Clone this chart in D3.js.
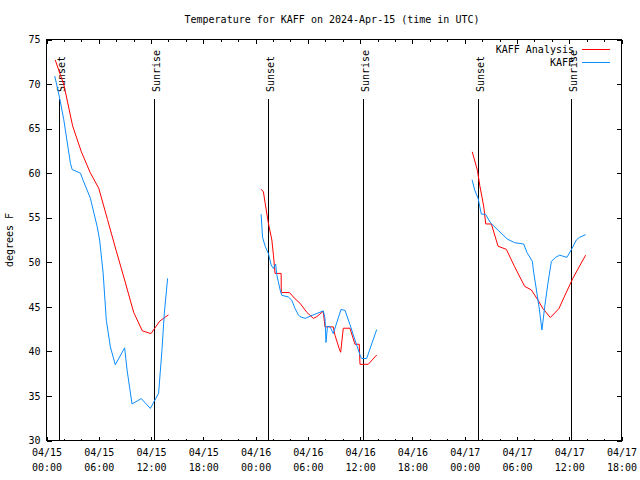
<!DOCTYPE html>
<html><head><meta charset="utf-8">
<script src="https://cdn.jsdelivr.net/npm/d3@7"></script>
<style>
html,body{margin:0;padding:0;background:#fff;}
svg{display:block;}
text{font-family:"DejaVu Sans Mono",monospace;font-size:10px;fill:#000;}
</style></head><body>
<svg id="chart" width="640" height="480"></svg>
<script>
const chartTitle = "Temperature for KAFF on 2024-Apr-15 (time in UTC)";
const yAxisLabel = "degrees F";
const seriesNames = ["KAFF Analysis", "KAFF"];
const seriesColors = ["#ff0000", "#0a8cff"];
const xDomain = ["2024-04-15 00:00", "2024-04-17 18:00"];
const yDomain = [30, 75];
const yTickValues = [30, 35, 40, 45, 50, 55, 60, 65, 70, 75];

const sunEventTimes = ["2024-04-15 01:31", "2024-04-15 12:25", "2024-04-16 01:28", "2024-04-16 12:21", "2024-04-17 01:32", "2024-04-17 12:18"];
const sunEventLabels = ["Sunset", "Sunrise", "Sunset", "Sunrise", "Sunset", "Sunrise"];

// KAFF Analysis (null = gap)
const analysisTimes = [
  "2024-04-15 01:00","2024-04-15 02:00","2024-04-15 03:00","2024-04-15 04:00","2024-04-15 05:00","2024-04-15 06:00","2024-04-15 07:00",
  "2024-04-15 08:00","2024-04-15 09:00","2024-04-15 10:00","2024-04-15 11:00","2024-04-15 12:00","2024-04-15 13:00","2024-04-15 14:00",
  null,
  "2024-04-16 00:38","2024-04-16 00:54","2024-04-16 01:06","2024-04-16 01:28","2024-04-16 01:52","2024-04-16 02:03","2024-04-16 02:14",
  "2024-04-16 02:56","2024-04-16 02:57","2024-04-16 03:53","2024-04-16 04:32","2024-04-16 05:06","2024-04-16 05:52","2024-04-16 06:38",
  "2024-04-16 07:01","2024-04-16 07:46","2024-04-16 07:58","2024-04-16 08:55","2024-04-16 09:07","2024-04-16 09:36","2024-04-16 09:46",
  "2024-04-16 10:00","2024-04-16 10:04","2024-04-16 10:50","2024-04-16 11:13","2024-04-16 11:24","2024-04-16 11:54","2024-04-16 11:59",
  "2024-04-16 12:56","2024-04-16 13:54",
  null,
  "2024-04-17 00:52","2024-04-17 01:28","2024-04-17 01:44","2024-04-17 02:11","2024-04-17 02:25","2024-04-17 03:04","2024-04-17 03:50",
  "2024-04-17 04:47","2024-04-17 05:44","2024-04-17 06:53","2024-04-17 07:39","2024-04-17 08:25","2024-04-17 08:59","2024-04-17 09:50",
  "2024-04-17 10:49","2024-04-17 11:28","2024-04-17 12:25","2024-04-17 13:53"
];
const analysisTemps = [
  72.7, 69.9, 65.3, 62.4, 60.1, 58.3, 54.8,
  51.3, 47.9, 44.4, 42.3, 42.0, 43.4, 44.1,
  null,
  58.2, 57.9, 56.6, 54.4, 52.5, 50.8, 48.75,
  48.75, 46.6, 46.6, 45.9, 45.4, 44.4, 43.7,
  43.9, 44.5, 42.75, 42.75, 41.8, 40.3, 39.9,
  42.0, 42.6, 42.6, 41.4, 40.8, 40.8, 38.55,
  38.55, 39.6,
  null,
  62.4, 60.3, 58.6, 56.3, 54.3, 54.3, 51.8,
  51.45, 49.5, 47.3, 46.9, 45.75, 44.8, 43.8,
  44.8, 46.2, 48.2, 50.8
];

// KAFF observations (null = gap)
const obsTimes = [
  "2024-04-15 00:57","2024-04-15 01:31","2024-04-15 01:59","2024-04-15 02:45","2024-04-15 02:57","2024-04-15 03:54","2024-04-15 04:12",
  "2024-04-15 05:02","2024-04-15 05:49","2024-04-15 06:06","2024-04-15 06:30","2024-04-15 06:52","2024-04-15 07:20","2024-04-15 07:54",
  "2024-04-15 08:58","2024-04-15 09:15","2024-04-15 09:49","2024-04-15 10:53","2024-04-15 11:55","2024-04-15 12:22","2024-04-15 12:52",
  "2024-04-15 13:15","2024-04-15 13:31","2024-04-15 13:54",
  null,
  "2024-04-16 00:38","2024-04-16 00:48","2024-04-16 01:06","2024-04-16 01:28","2024-04-16 01:47","2024-04-16 02:03","2024-04-16 02:18",
  "2024-04-16 02:26","2024-04-16 02:49","2024-04-16 03:00","2024-04-16 03:46","2024-04-16 04:09","2024-04-16 04:32","2024-04-16 04:55",
  "2024-04-16 05:06","2024-04-16 05:41","2024-04-16 06:15","2024-04-16 07:24","2024-04-16 07:46","2024-04-16 07:58","2024-04-16 08:05",
  "2024-04-16 08:15","2024-04-16 08:32","2024-04-16 08:55","2024-04-16 09:48","2024-04-16 10:16","2024-04-16 10:50","2024-04-16 11:24",
  "2024-04-16 11:59","2024-04-16 12:10","2024-04-16 12:45","2024-04-16 13:54",
  null,
  "2024-04-17 00:51","2024-04-17 01:09","2024-04-17 01:32","2024-04-17 01:44","2024-04-17 01:55","2024-04-17 02:23","2024-04-17 02:59",
  "2024-04-17 03:50","2024-04-17 04:54","2024-04-17 05:44","2024-04-17 06:46","2024-04-17 07:09","2024-04-17 07:46","2024-04-17 07:55",
  "2024-04-17 08:14","2024-04-17 08:32","2024-04-17 08:52","2024-04-17 09:11","2024-04-17 09:33","2024-04-17 09:57","2024-04-17 10:26",
  "2024-04-17 10:54","2024-04-17 11:44","2024-04-17 12:14","2024-04-17 12:49","2024-04-17 13:11","2024-04-17 13:53"
];
const obsTemps = [
  70.9, 68.4, 66.0, 61.1, 60.4, 60.0, 59.2,
  57.2, 54.0, 52.5, 48.8, 43.5, 40.5, 38.5,
  40.4, 37.9, 34.1, 34.7, 33.6, 34.4, 35.3,
  40.1, 44.2, 48.2,
  null,
  55.4, 52.8, 51.8, 51.0, 49.7, 49.3, 49.8,
  48.6, 46.9, 46.3, 46.1, 45.75, 44.8, 44.1,
  43.9, 43.7, 43.95, 44.4, 44.55, 43.7, 41.0,
  42.8, 42.8, 42.0, 44.7, 44.6, 43.0, 41.3,
  39.6, 39.2, 39.2, 42.45,
  null,
  59.25, 58.1, 57.2, 56.25, 55.4, 55.4, 54.4,
  53.6, 52.6, 52.2, 52.05, 51.1, 50.1, 48.9,
  46.9, 45.0, 42.4, 45.0, 47.6, 50.1, 50.55,
  50.8, 50.55, 51.4, 52.5, 52.8, 53.1
];

const parseT = d3.utcParse("%Y-%m-%d %H:%M");
const svg = d3.select("#chart");
const plotLeft = 46.5, plotRight = 621.5, plotTop = 39.5, plotBottom = 440.5;

const x = d3.scaleUtc().domain(xDomain.map(parseT)).range([plotLeft, plotRight]);
const y = d3.scaleLinear().domain(yDomain).range([plotBottom, plotTop]);

// Axes
const fmtDay = d3.utcFormat("%m/%d"), fmtHour = d3.utcFormat("%H:%M");
const majorTicks = d3.utcHour.every(6).range(x.domain()[0], d3.utcHour.offset(x.domain()[1], 1));
const minorTicks = d3.utcHour.every(2).range(x.domain()[0], d3.utcHour.offset(x.domain()[1], 1)).filter(t => t.getUTCHours() % 6 !== 0);

function styleAxis(g) {
  g.select(".domain").remove();
  g.selectAll("line").attr("stroke", "#000").attr("shape-rendering", "crispEdges");
  g.selectAll("text").attr("font-family", null).attr("font-size", null);
}

svg.append("g").attr("transform", `translate(0,${plotBottom})`)
  .call(d3.axisBottom(x).tickValues(majorTicks).tickSize(-4).tickPadding(8).tickFormat(""))
  .call(styleAxis)
  .call(g => g.selectAll(".tick").append("text").attr("fill", "#000").attr("text-anchor", "middle").attr("y", 15)
    .each(function(d) {
      const t = d3.select(this);
      t.append("tspan").attr("x", 0).text(fmtDay(d));
      t.append("tspan").attr("x", 0).attr("dy", 15).text(fmtHour(d));
    }));
svg.append("g").attr("transform", `translate(0,${plotBottom})`)
  .call(d3.axisBottom(x).tickValues(minorTicks).tickSize(-2).tickFormat(""))
  .call(styleAxis);
svg.append("g").attr("transform", `translate(0,${plotTop})`)
  .call(d3.axisTop(x).tickValues(majorTicks).tickSize(-4).tickFormat(""))
  .call(styleAxis);
svg.append("g").attr("transform", `translate(0,${plotTop})`)
  .call(d3.axisTop(x).tickValues(minorTicks).tickSize(-2).tickFormat(""))
  .call(styleAxis);
svg.append("g").attr("transform", `translate(${plotLeft},0)`)
  .call(d3.axisLeft(y).tickValues(yTickValues).tickSize(-5).tickPadding(6).tickFormat(d3.format("d")))
  .call(styleAxis);
svg.append("g").attr("transform", `translate(${plotRight},0)`)
  .call(d3.axisRight(y).tickValues(yTickValues).tickSize(-5).tickFormat(""))
  .call(styleAxis);

// Border
svg.append("rect").attr("x", plotLeft).attr("y", plotTop).attr("width", plotRight - plotLeft).attr("height", plotBottom - plotTop)
  .attr("fill", "none").attr("stroke", "#000").attr("shape-rendering", "crispEdges");

// Sunrise / sunset markers
sunEventTimes.forEach((t, i) => {
  const sx = Math.round(x(parseT(t)) - 0.5) + 0.5;
  svg.append("line").attr("x1", sx).attr("x2", sx).attr("y1", 99).attr("y2", plotBottom)
    .attr("stroke", "#000").attr("shape-rendering", "crispEdges");
  svg.append("text").attr("transform", `translate(${sx + 5},92) rotate(-90)`).text(sunEventLabels[i]);
});

// Series
function toPoints(times, temps) {
  return times.map((t, i) => ({ t: t ? parseT(t) : null, v: temps[i] }));
}
const line = d3.line().defined(d => d.v != null && d.t != null).x(d => x(d.t)).y(d => y(d.v));
const seriesData = [toPoints(analysisTimes, analysisTemps), toPoints(obsTimes, obsTemps)];
seriesData.forEach((pts, i) => {
  svg.append("path").datum(pts).attr("d", line).attr("fill", "none")
    .attr("stroke", seriesColors[i]).attr("stroke-width", 1);
});

// Legend
seriesNames.forEach((name, i) => {
  const ly = 49.5 + i * 13;
  svg.append("text").attr("x", 574).attr("y", ly + 3.5).attr("text-anchor", "end").text(name);
  svg.append("line").attr("x1", 582).attr("x2", 610).attr("y1", ly).attr("y2", ly)
    .attr("stroke", seriesColors[i]).attr("shape-rendering", "crispEdges");
});

// Title and y label
svg.append("text").attr("x", 332).attr("y", 23).attr("text-anchor", "middle").text(chartTitle);
svg.append("text").attr("transform", "translate(13,240) rotate(-90)").attr("text-anchor", "middle").text(yAxisLabel);
</script>
</body></html>
